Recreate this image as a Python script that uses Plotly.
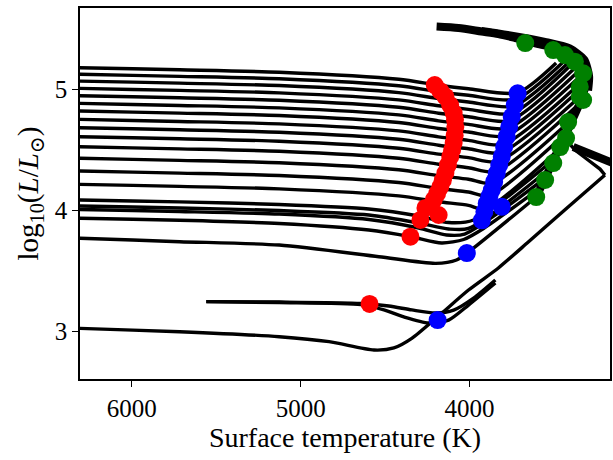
import plotly.graph_objects as go

# ---------------- data ----------------
# shared temperature grid for the nearly flat (hot) part of the upper tracks
FLAT_T = [6425, 6307, 5717, 5127, 4419, 4183, 4006]

# luminosity of each upper track on FLAT_T
UPPER_L_FLAT = [
    [5.181, 5.178, 5.161, 5.141, 5.083, 5.034, 5.005],
    [5.127, 5.124, 5.107, 5.087, 5.029, 4.980, 4.951],
    [5.071, 5.068, 5.051, 5.031, 4.973, 4.924, 4.895],
    [5.011, 5.008, 4.991, 4.971, 4.913, 4.864, 4.835],
    [4.950, 4.947, 4.930, 4.910, 4.852, 4.803, 4.774],
    [4.887, 4.884, 4.867, 4.847, 4.789, 4.740, 4.711],
    [4.824, 4.821, 4.804, 4.784, 4.726, 4.677, 4.648],
    [4.755, 4.752, 4.735, 4.715, 4.657, 4.608, 4.579],
    [4.686, 4.683, 4.666, 4.646, 4.588, 4.539, 4.510],
    [4.612, 4.609, 4.592, 4.572, 4.514, 4.465, 4.436],
    [4.529, 4.526, 4.509, 4.489, 4.431, 4.382, 4.353],
    [4.434, 4.431, 4.414, 4.394, 4.336, 4.287, 4.258],
    [4.329, 4.326, 4.309, 4.289, 4.231, 4.182, 4.153],
    [4.219, 4.216, 4.199, 4.179, 4.121, 4.072, 4.043],
]
# minimum (base of the giant branch) of each upper track
UPPER_T_MIN = [3715, 3726, 3737, 3749, 3762, 3773, 3787, 3801, 3815, 3831, 3847, 3866, 3888, 3910]
UPPER_L_MIN = [4.972, 4.918, 4.862, 4.802, 4.741, 4.678, 4.615, 4.546, 4.477, 4.403, 4.320, 4.225, 4.120, 4.010]
# tip of each upper track on the cool envelope
UPPER_T_END = [3487, 3445, 3404, 3369, 3339, 3316, 3304, 3298, 3298, 3310, 3345, 3392, 3434, 3475]
UPPER_L_END = [5.217, 5.225, 5.233, 5.242, 5.225, 5.200, 5.159, 5.110, 5.060, 4.986, 4.887, 4.755, 4.631, 4.499]

# lower tracks with deeper dips
LOW1_T = [6425, 6307, 5717, 5127, 4596, 4301, 4124, 3976, 3504]
LOW1_L = [4.090, 4.087, 4.071, 4.050, 4.013, 3.955, 3.901, 3.922, 4.417]
LOW2_T = [6425, 6307, 5717, 5127, 4596, 4301, 4124, 4006, 3534]
LOW2_L = [4.040, 4.037, 4.021, 4.000, 3.963, 3.897, 3.848, 3.852, 4.334]
LOW3_T = [6425, 6307, 5717, 5127, 4596, 4301, 4136, 4029, 3552]
LOW3_L = [4.011, 4.008, 3.992, 3.971, 3.926, 3.856, 3.798, 3.806, 4.268]
LOW4_T = [6425, 6307, 5717, 5127, 4596, 4348, 4165, 4035, 3917, 3575]
LOW4_L = [3.939, 3.936, 3.920, 3.893, 3.839, 3.784, 3.732, 3.761, 3.852, 4.194]
LOW5_T = [6425, 6307, 5717, 5127, 4537, 4201, 4077, 4006, 3605]
LOW5_L = [3.774, 3.771, 3.743, 3.715, 3.619, 3.564, 3.592, 3.658, 4.112]

# faintest long track
BOTTOM_T = [6425, 6307, 5717, 5127, 4832, 4566, 4448, 4342, 4183, 4006, 3829, 3652, 3416, 3198]
BOTTOM_L = [3.035, 3.028, 3.000, 2.959, 2.918, 2.849, 2.866, 2.945, 3.130, 3.344, 3.526, 3.740, 4.029, 4.293]
HOOK_T = [3198, 3227, 3298, 3375, 3428]
HOOK_L = [4.293, 4.342, 4.417, 4.499, 4.582]

# two short tracks starting near 5560 K
SHORT_A_T = [5559, 5127, 4643, 4478, 4342, 4201, 4094, 3976, 3847]
SHORT_A_L = [3.248, 3.245, 3.233, 3.212, 3.180, 3.155, 3.179, 3.278, 3.427]
SHORT_B_T = [5559, 5127, 4643, 4507, 4389, 4242, 4124, 4006, 3847]
SHORT_B_L = [3.248, 3.241, 3.224, 3.180, 3.122, 3.072, 3.096, 3.220, 3.402]

# cool envelope where the track tips pile up
ENV_T = [4195, 4065, 3929, 3829, 3729, 3593, 3475, 3381, 3322, 3304, 3316, 3339, 3386, 3428, 3475, 3516, 3563, 3605]
ENV_L = [5.518, 5.506, 5.477, 5.456, 5.423, 5.374, 5.341, 5.300, 5.234, 5.118, 5.011, 4.912, 4.763, 4.631, 4.499, 4.375, 4.235, 4.111]
ENV_OUT_T = [3929, 3829, 3552, 3404, 3316, 3286, 3292]
ENV_OUT_L = [5.490, 5.470, 5.400, 5.345, 5.250, 5.110, 4.990]
BAND_T = [3386, 3168, 3062]
BAND_L = [4.524, 4.400, 4.342]

# marked points
RED_T = [4206, 4172, 4143, 4115, 4094, 4086, 4084, 4088, 4094, 4103, 4114, 4128, 4143, 4158,
         4173, 4192, 4212, 4261, 4291, 4183, 4350, 4592]
RED_L = [5.035, 4.985, 4.939, 4.870, 4.804, 4.750, 4.691, 4.620, 4.557, 4.500, 4.444, 4.375, 4.309, 4.250,
         4.196, 4.140, 4.087, 4.021, 3.922, 3.963, 3.784, 3.229]
BLUE_T = [3715, 3732, 3750, 3765, 3780, 3795, 3809, 3824, 3839, 3854, 3868, 3883, 3898, 3912, 3927,
          3809, 4016, 4189]
BLUE_L = [4.967, 4.870, 4.774, 4.690, 4.609, 4.525, 4.444, 4.375, 4.307, 4.238, 4.169, 4.114, 4.059, 3.990, 3.919,
          4.031, 3.649, 3.096]
GREEN_T = [3670, 3504, 3435, 3376, 3327, 3347, 3347, 3327, 3416, 3428, 3463, 3504, 3552, 3605]
GREEN_L = [5.382, 5.324, 5.283, 5.228, 5.132, 5.021, 4.939, 4.912, 4.730, 4.598, 4.524, 4.392, 4.252, 4.111]

X_TICKS = [6000, 5000, 4000]
Y_TICKS = [3, 4, 5]

# ---------------- figure ----------------
fig = go.Figure()
LW = 3.4


def add_line(t, l, width=LW, shape="spline"):
    fig.add_trace(go.Scatter(
        x=t, y=l, mode="lines", hoverinfo="skip", showlegend=False,
        line=dict(color="black", width=width, shape=shape, smoothing=0.7),
    ))


for k in range(len(UPPER_L_FLAT)):
    add_line(FLAT_T + [UPPER_T_MIN[k], UPPER_T_END[k]],
             UPPER_L_FLAT[k] + [UPPER_L_MIN[k], UPPER_L_END[k]])

for t, l in [(LOW1_T, LOW1_L), (LOW2_T, LOW2_L), (LOW3_T, LOW3_L), (LOW4_T, LOW4_L),
             (LOW5_T, LOW5_L), (BOTTOM_T, BOTTOM_L), (SHORT_A_T, SHORT_A_L), (SHORT_B_T, SHORT_B_L)]:
    add_line(t, l)

add_line(HOOK_T, HOOK_L, shape="linear")
add_line(ENV_T, ENV_L, width=8)
add_line(ENV_OUT_T, ENV_OUT_L, width=6)
add_line(BAND_T, BAND_L, width=8, shape="linear")

for t, l, c in [(RED_T, RED_L, "#ff0000"), (BLUE_T, BLUE_L, "#0000ff"), (GREEN_T, GREEN_L, "#008000")]:
    fig.add_trace(go.Scatter(
        x=t, y=l, mode="markers", hoverinfo="skip", showlegend=False,
        marker=dict(color=c, size=18, line=dict(width=0)),
    ))

FONT = "Liberation Serif, DejaVu Serif, serif"
axis_common = dict(
    showline=True, mirror=True, linecolor="black", linewidth=1.6,
    ticks="outside", ticklen=6, tickwidth=1.4, tickcolor="black",
    showgrid=False, zeroline=False,
    tickfont=dict(family=FONT, size=25, color="black"),
)

fig.update_layout(
    width=613, height=460,
    margin=dict(l=80, r=1, t=8, b=81),
    paper_bgcolor="white", plot_bgcolor="white",
    xaxis=dict(range=[6307, 3168], tickvals=X_TICKS, ticktext=[str(v) for v in X_TICKS],
               title=dict(text="Surface temperature (K)", font=dict(family=FONT, size=28, color="black"),
                          standoff=6),
               **axis_common),
    yaxis=dict(range=[2.61, 5.671], tickvals=Y_TICKS, ticktext=[str(v) for v in Y_TICKS],
               title=dict(text="log<sub>10</sub>(<i>L</i>/<i>L</i><sub>⊙</sub>)",
                          font=dict(family=FONT, size=29, color="black"), standoff=8),
               **axis_common),
)

fig.write_html("out.html")
